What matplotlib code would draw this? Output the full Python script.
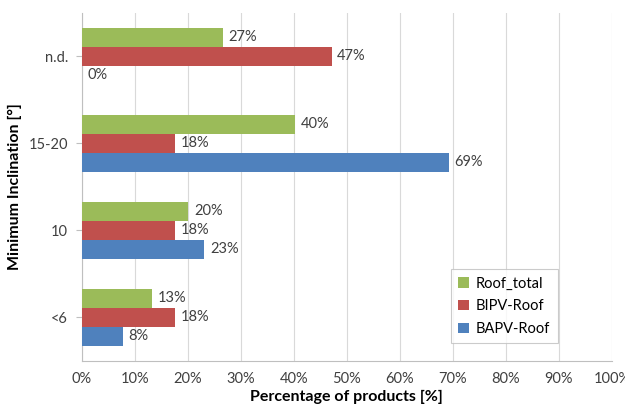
import numpy as np
import matplotlib
matplotlib.use("Agg")
import matplotlib.pyplot as plt

plt.rcParams['font.family'] = ['Lato', 'DejaVu Sans']

categories = ["<6", "10", "15-20", "n.d."]
roof_total = [13.3, 20.1, 40.2, 26.6]
bipv_roof = [17.6, 17.6, 17.6, 47.1]
bapv_roof = [7.7, 23.1, 69.2, 0.0]
series_names = ["Roof_total", "BIPV-Roof", "BAPV-Roof"]
colors = ["#9BBB59", "#C0504D", "#4F81BD"]

fig = plt.figure(figsize=(6.25, 4.12), dpi=100)
ax = fig.add_axes([0.131, 0.124, 0.848, 0.845])

y = np.arange(len(categories))
h = 0.218
offsets = [h, 0, -h]
for vals, name, col, off in zip([roof_total, bipv_roof, bapv_roof], series_names, colors, offsets):
    bars = ax.barh(y + off, vals, height=h, color=col, label=name, zorder=3)
    ax.bar_label(bars, labels=[f"{round(v)}%" for v in vals], padding=4,
                 fontsize=10.5, color="#404040")

ax.set_xlim(0, 100)
ax.set_ylim(-0.5, len(categories) - 0.5)
ax.set_xticks(np.arange(0, 101, 10))
ax.set_xticklabels([f"{t}%" for t in range(0, 101, 10)], fontsize=10.5, color="#404040")
ax.set_yticks(y)
ax.set_yticklabels(categories, fontsize=10.5, color="#404040")
ax.grid(axis="x", color="#D9D9D9", linewidth=0.8, zorder=0)
ax.tick_params(axis="x", length=0, pad=8)
ax.tick_params(axis="y", length=4, color="#BFBFBF", pad=6)
for s in ["top", "right"]:
    ax.spines[s].set_visible(False)
for s in ["left", "bottom"]:
    ax.spines[s].set_color("#BFBFBF")

ax.set_xlabel("Percentage of products [%]", fontsize=11.5, fontweight="bold", labelpad=3)
ax.set_ylabel("Minimum Inclination [°]", fontsize=11.5, fontweight="bold", labelpad=5)

leg = ax.legend(loc="upper left", bbox_to_anchor=(0.683, 0.284), fontsize=10.5,
                frameon=True, fancybox=False, handlelength=0.7, handleheight=0.7,
                handletextpad=0.5, borderpad=0.5, labelspacing=0.6)
leg.get_frame().set_edgecolor("#BFBFBF")
leg.get_frame().set_linewidth(0.8)

fig.savefig("out.png", dpi=100)
